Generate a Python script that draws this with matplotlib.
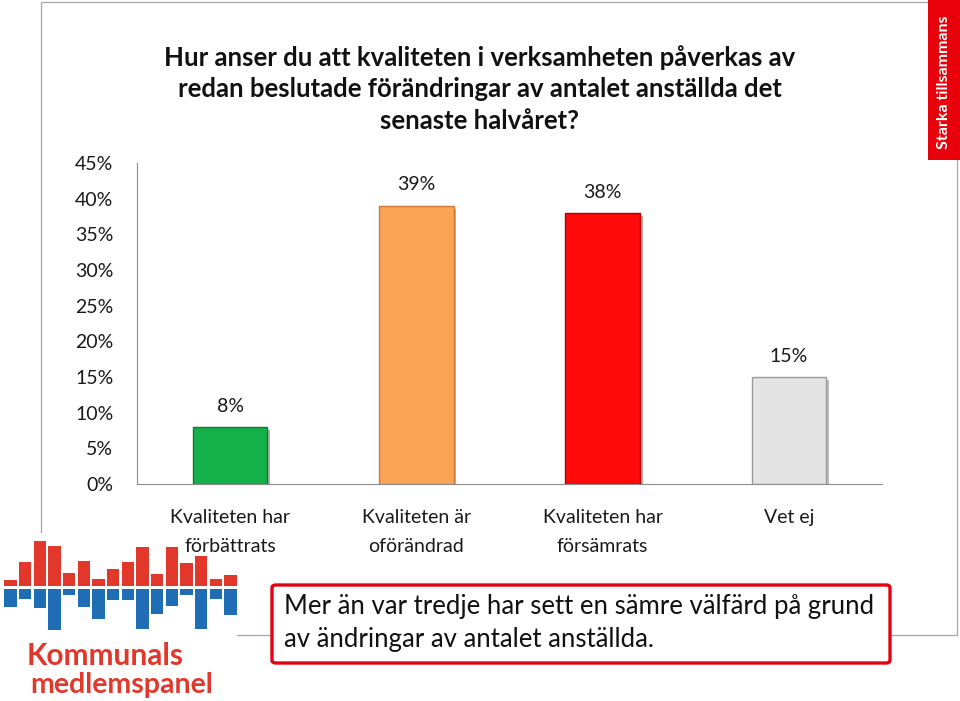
import numpy as np
import matplotlib
matplotlib.use('Agg')
import matplotlib.pyplot as plt
import matplotlib.patheffects as pe
from matplotlib.patches import Rectangle, FancyBboxPatch
from matplotlib.ticker import MultipleLocator, PercentFormatter

plt.rcParams['font.family'] = ['Lato', 'DejaVu Sans']

# Chart data
categories = ['Kvaliteten har\nförbättrats', 'Kvaliteten är\noförändrad',
              'Kvaliteten har\nförsämrats', 'Vet ej']
values = [8, 39, 38, 15]
bar_colors = ['#14b14a', '#fba456', '#ff0a0a', '#e4e4e4']
edge_colors = ['#0c7a33', '#c9793a', '#b00000', '#9a9a9a']

title = ('Hur anser du att kvaliteten i verksamheten påverkas av\n'
         'redan beslutade förändringar av antalet anställda det\n'
         'senaste halvåret?')
note = ('Mer än var tredje har sett en sämre välfärd på grund\n'
        'av ändringar av antalet anställda.')

# Logo bars (decoration)
logo_up = [6, 24, 45, 40, 13, 25, 7, 17, 24, 39, 12, 39, 23, 30, 7, 11]
logo_down = [18, 10, 19, 41, 6, 18, 30, 11, 11, 40, 25, 17, 6, 40, 10, 26]

fig = plt.figure(figsize=(9.6, 7.01), dpi=100)
W, H = 960, 701

def fx(px):
    return px / W

def fy(py):
    return 1 - py / H

# slide frame
fig.add_artist(Rectangle((fx(41), fy(635)), fx(957) - fx(41), fy(2) - fy(635),
                         transform=fig.transFigure, fill=False,
                         edgecolor='#a6a6a6', linewidth=0.9, zorder=1))

# logo area (behind the chart texts)
fig.add_artist(Rectangle((0, 0), fx(237), fy(533), transform=fig.transFigure,
                         facecolor='white', edgecolor='none', zorder=2))
lax = fig.add_axes([fx(4), fy(631), fx(237) - fx(4), fy(540) - fy(631)], zorder=3)
lx = np.arange(len(logo_up))
lax.bar(lx, logo_up, bottom=1.5, width=0.84, color='#e2382b')
lax.bar(lx, [-d for d in logo_down], bottom=-1.5, width=0.84, color='#1f6db5')
lax.set_xlim(-0.45, len(logo_up) - 0.55)
lax.set_ylim(-43.5, 47.5)
lax.axis('off')
fig.text(fx(27), fy(656), 'Kommunals', ha='left', va='center', fontsize=21.5,
         fontweight='bold', color='#e2382b', zorder=4)
fig.text(fx(30), fy(685), 'medlemspanel', ha='left', va='center', fontsize=20.5,
         fontweight='bold', color='#e2382b', zorder=4)

# main chart
ax = fig.add_axes([fx(137), fy(484), fx(882) - fx(137), fy(163) - fy(484)], zorder=5)
ax.patch.set_alpha(0)
x = np.arange(len(categories))
bars = ax.bar(x, values, width=0.4, color=bar_colors, edgecolor=edge_colors,
              linewidth=1.0, zorder=3)
for b in bars:
    b.set_path_effects([pe.SimplePatchShadow(offset=(2, -2), alpha=0.35), pe.Normal()])
for xi, v in zip(x, values):
    ax.annotate(f'{v}%', (xi, v), xytext=(0, 15), textcoords='offset points',
                ha='center', va='center', fontsize=14, color='#1a1a1a')

ax.set_xlim(-0.5, len(categories) - 0.5)
ax.set_ylim(0, 45)
ax.yaxis.set_major_locator(MultipleLocator(5))
ax.yaxis.set_major_formatter(PercentFormatter(decimals=0))
ax.set_xticks(x)
ax.set_xticklabels(categories, fontsize=14, linespacing=1.85, color='#1a1a1a')
ax.tick_params(axis='y', length=0, pad=17, labelsize=14, labelcolor='#1a1a1a')
ax.tick_params(axis='x', length=0, pad=18)
for s in ['top', 'right']:
    ax.spines[s].set_visible(False)
ax.spines['left'].set_color('#8c8c8c')
ax.spines['bottom'].set_color('#8c8c8c')

# title
fig.text(0.5, fy(89), title, ha='center', va='center', fontsize=18.5,
         fontweight='bold', linespacing=1.38, color='#111111')

# note box
fig.add_artist(FancyBboxPatch((fx(272), fy(663)), fx(890) - fx(272), fy(585) - fy(663),
                              boxstyle='round,pad=0,rounding_size=0.004',
                              transform=fig.transFigure, facecolor='white',
                              edgecolor='#e3000f', linewidth=2.4, zorder=6))
fig.text(fx(284), fy(623), note, ha='left', va='center', fontsize=18.5,
         linespacing=1.38, color='#111111', zorder=7)

# side banner
fig.add_artist(Rectangle((fx(928), fy(160)), fx(960) - fx(928), fy(0) - fy(160),
                         transform=fig.transFigure, facecolor='#e8000b',
                         edgecolor='none', zorder=6))
fig.text(fx(944), fy(82), 'Starka tillsammans', rotation=90, ha='center',
         va='center', fontsize=11.5, fontweight='bold', color='white', zorder=7)

fig.savefig('out.png', dpi=100)
